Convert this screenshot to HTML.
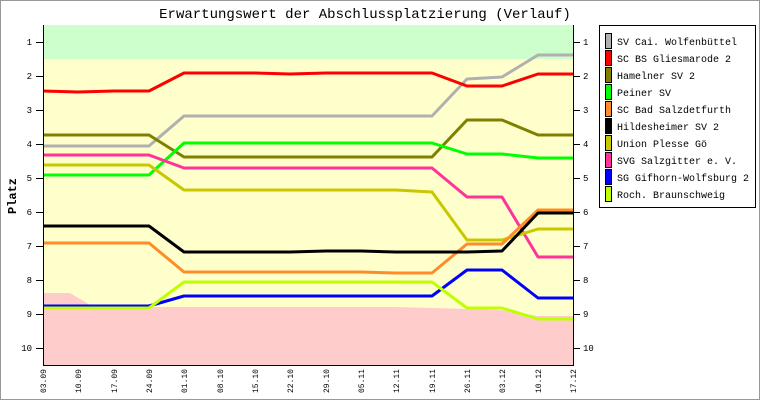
<!DOCTYPE html>
<html><head><meta charset="utf-8"><style>body{margin:0;background:#fff}svg{display:block}text{font-family:"Liberation Mono","DejaVu Sans Mono",monospace}</style></head><body>
<svg width="760" height="400" xmlns="http://www.w3.org/2000/svg">
<rect x="0.5" y="0.5" width="759" height="399" fill="#fff" stroke="#999"/>
<text x="365" y="18" text-anchor="middle" font-size="14">Erwartungswert der Abschlussplatzierung (Verlauf)</text>
<rect x="43" y="25" width="530" height="340" fill="#ffffcc"/>
<rect x="43" y="25" width="530" height="34" fill="#ccffcc"/>
<polygon fill="#ffcccc" points="43,293 70,293 90,305 149,307 396,307 432,308 467,309 502,310 538,316 573,316 573,365 43,365"/>
<g fill="none" stroke-width="3" stroke-linejoin="round">
<polyline stroke="#b0b0b0" points="43,146 149,146 184,116 432,116 467,79 502,77 538,55 573,55"/>
<polyline stroke="#ff0000" points="43,91 78,92 114,91 149,91 184,73 255,73 290,74 326,73 432,73 467,86 502,86 538,74 573,74"/>
<polyline stroke="#808000" points="43,135 149,135 184,157 432,157 467,120 502,120 538,135 573,135"/>
<polyline stroke="#00ff00" points="43,175 149,175 184,143 432,143 467,154 502,154 538,158 573,158"/>
<polyline stroke="#ff3399" points="43,155 149,155 184,168 432,168 467,197 502,197 538,257 573,257"/>
<polyline stroke="#c8c800" points="43,165 149,165 184,190 396,190 432,192 467,240 502,240 538,229 573,229"/>
<polyline stroke="#ff8c28" points="43,243 149,243 184,272 361,272 396,273 432,273 467,244 502,244 538,210 573,210"/>
<polyline stroke="#000000" points="43,226 149,226 184,252 290,252 326,251 361,251 396,252 467,252 502,251 538,213 573,213"/>
<polyline stroke="#0000ff" points="43,306 149,306 184,296 432,296 467,270 502,270 538,298 573,298"/>
<polyline stroke="#bfff00" points="43,308 149,308 184,282 432,282 467,308 502,308 538,319 573,319"/>
</g>
<g stroke="#000" stroke-width="1">
<line x1="43.5" y1="25" x2="43.5" y2="365"/><line x1="573.5" y1="25" x2="573.5" y2="365"/><line x1="43" y1="365.5" x2="574" y2="365.5"/>
</g>
<g font-size="9" fill="#000">
<g stroke="#000"><line x1="36" y1="42.5" x2="43" y2="42.5"/><line x1="36" y1="76.5" x2="43" y2="76.5"/><line x1="36" y1="110.5" x2="43" y2="110.5"/><line x1="36" y1="144.5" x2="43" y2="144.5"/><line x1="36" y1="178.5" x2="43" y2="178.5"/><line x1="36" y1="212.5" x2="43" y2="212.5"/><line x1="36" y1="246.5" x2="43" y2="246.5"/><line x1="36" y1="280.5" x2="43" y2="280.5"/><line x1="36" y1="314.5" x2="43" y2="314.5"/><line x1="36" y1="348.5" x2="43" y2="348.5"/>
<line x1="573" y1="42.5" x2="580" y2="42.5"/><line x1="573" y1="76.5" x2="580" y2="76.5"/><line x1="573" y1="110.5" x2="580" y2="110.5"/><line x1="573" y1="144.5" x2="580" y2="144.5"/><line x1="573" y1="178.5" x2="580" y2="178.5"/><line x1="573" y1="212.5" x2="580" y2="212.5"/><line x1="573" y1="246.5" x2="580" y2="246.5"/><line x1="573" y1="280.5" x2="580" y2="280.5"/><line x1="573" y1="314.5" x2="580" y2="314.5"/><line x1="573" y1="348.5" x2="580" y2="348.5"/></g>
<g text-anchor="end"><text x="32" y="45">1</text><text x="32" y="79">2</text><text x="32" y="113">3</text><text x="32" y="147">4</text><text x="32" y="181">5</text><text x="32" y="215">6</text><text x="32" y="249">7</text><text x="32" y="283">8</text><text x="32" y="317">9</text><text x="32" y="351">10</text></g>
<g><text x="583" y="45">1</text><text x="583" y="79">2</text><text x="583" y="113">3</text><text x="583" y="147">4</text><text x="583" y="181">5</text><text x="583" y="215">6</text><text x="583" y="249">7</text><text x="583" y="283">8</text><text x="583" y="317">9</text><text x="583" y="351">10</text></g>
<g font-size="8" text-anchor="end">
<text transform="translate(46,369) rotate(-90)">03.09</text><text transform="translate(81,369) rotate(-90)">10.09</text><text transform="translate(117,369) rotate(-90)">17.09</text><text transform="translate(152,369) rotate(-90)">24.09</text><text transform="translate(187,369) rotate(-90)">01.10</text><text transform="translate(223,369) rotate(-90)">08.10</text><text transform="translate(258,369) rotate(-90)">15.10</text><text transform="translate(293,369) rotate(-90)">22.10</text><text transform="translate(329,369) rotate(-90)">29.10</text><text transform="translate(364,369) rotate(-90)">05.11</text><text transform="translate(399,369) rotate(-90)">12.11</text><text transform="translate(435,369) rotate(-90)">19.11</text><text transform="translate(470,369) rotate(-90)">26.11</text><text transform="translate(505,369) rotate(-90)">03.12</text><text transform="translate(541,369) rotate(-90)">10.12</text><text transform="translate(576,369) rotate(-90)">17.12</text></g>
</g>
<text transform="translate(16,196) rotate(-90)" text-anchor="middle" font-size="12" font-weight="bold">Platz</text>
<rect x="599.5" y="25.5" width="156" height="182" fill="#fff" stroke="#000"/>
<g stroke="#000" stroke-width="1">
<rect x="605.5" y="33.5" width="6" height="15" fill="#b0b0b0"/><rect x="605.5" y="50.5" width="6" height="15" fill="#ff0000"/><rect x="605.5" y="67.5" width="6" height="15" fill="#808000"/><rect x="605.5" y="84.5" width="6" height="15" fill="#00ff00"/><rect x="605.5" y="101.5" width="6" height="15" fill="#ff8c28"/><rect x="605.5" y="118.5" width="6" height="15" fill="#000"/><rect x="605.5" y="135.5" width="6" height="15" fill="#c8c800"/><rect x="605.5" y="152.5" width="6" height="15" fill="#ff3399"/><rect x="605.5" y="169.5" width="6" height="15" fill="#0000ff"/><rect x="605.5" y="186.5" width="6" height="15" fill="#bfff00"/>
</g>
<g font-size="10" fill="#000">
<text x="617" y="45">SV Cai. Wolfenbüttel</text><text x="617" y="62">SC BS Gliesmarode 2</text><text x="617" y="79">Hamelner SV 2</text><text x="617" y="96">Peiner SV</text><text x="617" y="113">SC Bad Salzdetfurth</text><text x="617" y="130">Hildesheimer SV 2</text><text x="617" y="147">Union Plesse Gö</text><text x="617" y="164">SVG Salzgitter e. V.</text><text x="617" y="181">SG Gifhorn-Wolfsburg 2</text><text x="617" y="198">Roch. Braunschweig</text>
</g>
</svg>
</body></html>
